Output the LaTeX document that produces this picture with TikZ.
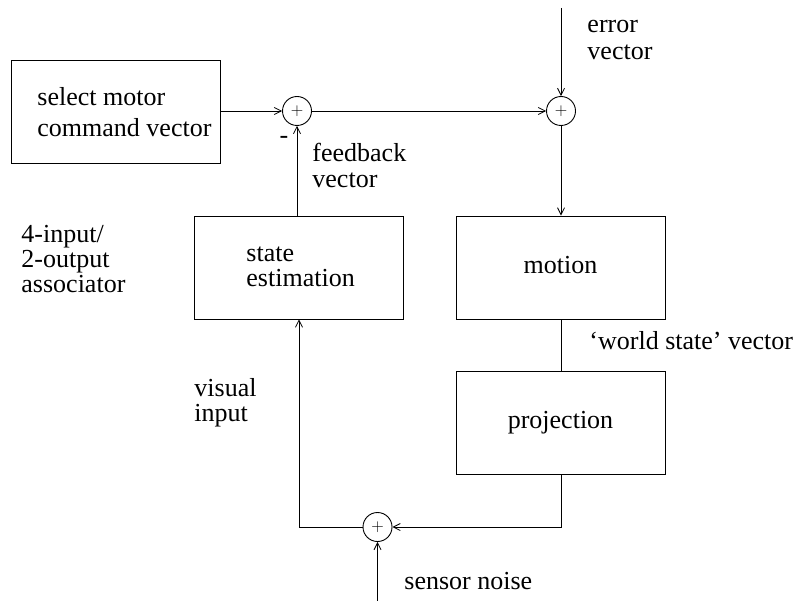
\documentclass[tikz,border=0pt]{standalone}
\usepackage{fontspec}
\setmainfont{Liberation Serif}
\usetikzlibrary{arrows.meta}
\begin{document}
\begin{tikzpicture}[x=1pt,y=-1pt,
  line width=0.9pt,
  >={Straight Barb[length=7pt,width=7pt,line width=0.8pt]},
  block/.style={draw,minimum width=209pt,minimum height=103pt,inner sep=0pt},
  sumnode/.style={draw,circle,minimum size=29pt,inner sep=0pt,font=\fontsize{18}{18}\selectfont},
  % anchored at the baseline of the last line
  lbl/.style={align=left,anchor=base west,inner sep=0pt},
  every node/.append style={font=\fontsize{26}{26}\selectfont}]
\useasboundingbox (0,0) rectangle (794,601);

% blocks
\node[block] (sel) at (115.5,111.5) {};
\node[lbl,font=\fontsize{26}{31}\selectfont] at (37,137) {select motor\\command vector};
\node[block] (est) at (298.5,267.5) {};
\node[lbl,font=\fontsize{26}{25.5}\selectfont] at (246,287) {state\\estimation};
\node[block] (mot) at (560.5,267.5) {};
\node[lbl,anchor=base] at (mot.center |- 0,273) {motion};
\node[block] (proj) at (560.5,422.5) {};
\node[lbl,anchor=base] at (proj.center |- 0,428) {projection};

% summing junctions
\node[sumnode] (s1) at (297,111) {$+$};
\node[sumnode] (s2) at (561,111) {$+$};
\node[sumnode] (s3) at (377.5,527) {$+$};

\coordinate (errin) at (561,8);
\coordinate (noisein) at (377.5,601);
\coordinate (cr) at (561,527);
\coordinate (cl) at (299,527);

% connections
\draw[->] (sel.east |- s1) -- (s1.west);
\draw[->] (s1.east) -- (s2.west);
\draw[->] (errin) -- (s2.north);
\draw[->] (s2.south) -- (mot.north -| s2);
\draw (mot.south -| s2) -- (proj.north -| s2);
\draw[->] (proj.south -| cr) -- (cr) -- (s3.east);
\draw[->] (s3.west) -- (cl) -- (est.south -| cl);
\draw[->] (noisein) -- (s3.south);
\draw[->] (est.north -| s1) -- (s1.south);

% labels
\node[lbl,font=\fontsize{26}{27}\selectfont] at (587,60) {error\\vector};
\node[anchor=center,inner sep=0pt] at (284,140) {-};
\node[lbl] at (312,188) {feedback\\vector};
\node[lbl,font=\fontsize{26}{25}\selectfont] at (21,293) {4-input/\\2-output\\associator};
\node[lbl] at (589,349) {`world state' vector};
\node[lbl,font=\fontsize{26}{25}\selectfont] at (194,421) {visual\\input};
\node[lbl] at (404,589) {sensor noise};
\end{tikzpicture}
\end{document}
